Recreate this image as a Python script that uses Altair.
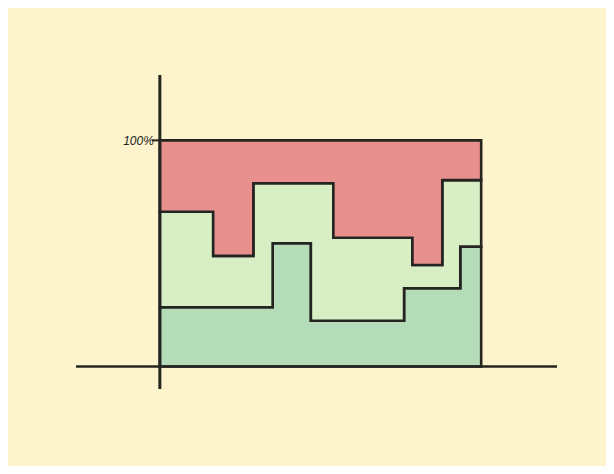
import altair as alt
import pandas as pd

# step positions (x) and the share of each layer (percent) from each step on
x_steps = [0, 16.6, 29.1, 35.1, 47.0, 54.0, 76.0, 78.6, 87.9, 93.5, 100]
series_names = ["Bottom", "Middle", "Top"]
bottom_vals = [26.2, 26.2, 26.2, 54.5, 20.2, 20.2, 34.6, 34.6, 34.6, 53.0, 53.0]
middle_vals = [42.2, 22.7, 54.8, 26.5, 60.8, 36.7, 22.3, 10.3, 47.8, 29.4, 29.4]
top_vals = [31.6, 51.1, 19.0, 19.0, 19.0, 43.1, 43.1, 55.1, 17.6, 17.6, 17.6]
series_colors = ["#b5dcb9", "#d8efc5", "#e8908e"]
y_label = "100%"

rows = []
for i, x in enumerate(x_steps):
    for k, (name, vals) in enumerate(zip(series_names, [bottom_vals, middle_vals, top_vals])):
        rows.append({"x": x, "series": name, "order": k, "v": vals[i]})
df = pd.DataFrame(rows)

INK = "#242421"
xscale = alt.Scale(domain=[-26.1, 123.6], nice=False, zero=False)
yscale = alt.Scale(domain=[-0.0995, 1.289], nice=False, zero=False)

areas = alt.Chart(df).mark_area(
    interpolate="step-after", stroke=INK, strokeWidth=2.6, strokeJoin="miter"
).encode(
    x=alt.X("x:Q", scale=xscale, axis=None),
    y=alt.Y("v:Q", stack="normalize", scale=yscale, axis=None),
    color=alt.Color("series:N", scale=alt.Scale(domain=series_names, range=series_colors), legend=None),
    order=alt.Order("order:Q"),
)

x_axis = alt.Chart().mark_rule(color=INK, strokeWidth=2.6).encode(y=alt.Y(datum=0))
y_axis = alt.Chart().mark_rule(color=INK, strokeWidth=3).encode(x=alt.X(datum=0))
tick = alt.Chart().mark_rule(color=INK, strokeWidth=2).encode(
    x=alt.X(datum=-2.5), x2=alt.X2(datum=0), y=alt.Y(datum=1)
)
label = alt.Chart().mark_text(
    text=y_label, align="right", baseline="middle", dx=-6, dy=1,
    font="Liberation Sans", fontSize=12, fontStyle="italic", color=INK,
).encode(x=alt.X(datum=0), y=alt.Y(datum=1))

chart = alt.layer(areas, x_axis, y_axis, tick, label).properties(
    width=481, height=314,
    padding={"left": 68, "top": 67, "right": 49, "bottom": 77},
    autosize=alt.AutoSizeParams(type="none"),
    background="#fdf4cd",
).configure_view(stroke=None)

chart.save("out.html", embed_options={"renderer": "svg", "actions": False})
